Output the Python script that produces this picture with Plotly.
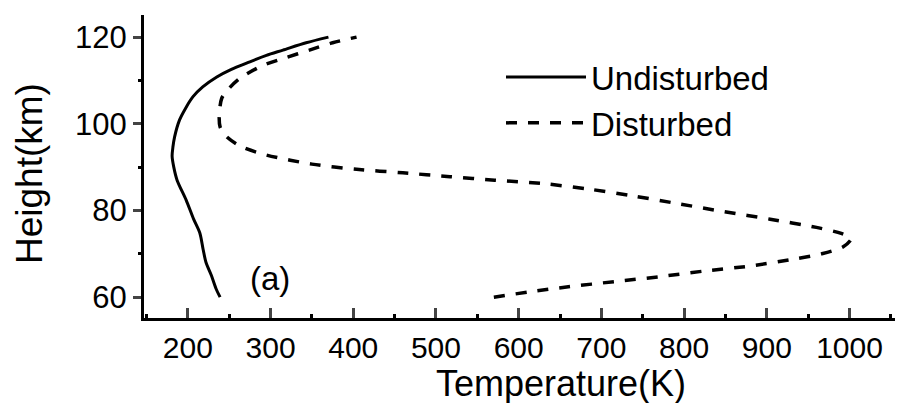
import plotly.graph_objects as go

# Undisturbed profile: height (km) and temperature (K)
undist_h = [60, 62, 65, 68, 71, 74.8, 78, 82.4, 87, 90, 92.5, 94.7, 97, 100.9, 103.5, 106.2, 108.5, 110.8, 112.5, 114.3, 115.8, 117, 118.7, 120]
undist_t = [239, 234, 228.5, 222, 218.5, 214.5, 207, 198, 187, 183, 181, 182, 184, 190, 197, 206, 218, 235, 252, 275, 295, 315, 343, 370]

# Disturbed profile: height (km) and temperature (K)
dist_h = [60, 61.2, 62.4, 63.6, 64.7, 66, 67.2, 68.9, 70, 71.6, 73.5, 74.7, 76.1, 78, 79.7, 81.5, 83.3, 84.9, 86.2, 87, 87.8, 88.7, 89.5, 90.7, 92.8, 94.7, 97, 99.3, 102, 105.9, 108, 110.5, 113.5, 115.3, 117, 118.7, 120]
dist_t = [570, 612, 660, 716, 769, 823, 880, 936, 966, 992, 1002, 990, 960, 904, 849, 795, 740, 686, 630, 571, 517, 460, 404, 350, 295, 265, 247, 239, 238, 241, 249, 263, 291, 319, 347, 375, 404]

x_ticks = [200, 300, 400, 500, 600, 700, 800, 900, 1000]
y_ticks = [60, 80, 100, 120]

FONT = "Liberation Sans, Arial, sans-serif"

# plot-area pixel box (for placing the free-standing titles)
plot_l, plot_r, plot_t, plot_b = 144, 895, 15, 318
def px_to_paper_x(px):
    return (px - plot_l) / (plot_r - plot_l)
def py_to_paper_y(py):
    return (plot_b - py) / (plot_b - plot_t)

fig = go.Figure()
fig.add_trace(go.Scatter(x=undist_t, y=undist_h, mode="lines", name="Undisturbed",
                         line=dict(color="black", width=3, shape="spline", smoothing=0.8)))
fig.add_trace(go.Scatter(x=dist_t, y=dist_h, mode="lines", name="Disturbed",
                         line=dict(color="black", width=3.5, dash="11px,11px", shape="spline", smoothing=0.8)))

fig.update_layout(
    width=904, height=403,
    margin=dict(l=plot_l, r=904 - plot_r, t=plot_t, b=403 - plot_b),
    paper_bgcolor="white", plot_bgcolor="white",
    font=dict(family=FONT, color="black", size=32),
    showlegend=True,
    legend=dict(x=px_to_paper_x(501), y=py_to_paper_y(49), xanchor="left", yanchor="top",
                font=dict(size=33, color="black"), bgcolor="rgba(0,0,0,0)",
                itemwidth=80, tracegroupgap=0),
    xaxis=dict(range=[147, 1055], tickvals=x_ticks, ticks="inside", ticklen=10, tickwidth=2.5,
               showline=True, linewidth=3, linecolor="black", showgrid=False, zeroline=False,
               tickfont=dict(size=30), ticklabelstandoff=1,
               minor=dict(tickvals=[150, 250, 350, 450, 550, 650, 750, 850, 950, 1050],
                          ticks="inside", ticklen=4, tickwidth=2.5, tickcolor="black")),
    yaxis=dict(range=[55.2, 125.1], tickvals=y_ticks, ticks="outside", ticklen=8, tickwidth=2.5,
               showline=True, linewidth=3, linecolor="black", showgrid=False, zeroline=False,
               tickfont=dict(size=31),
               minor=dict(tickvals=[70, 90, 110], ticks="outside", ticklen=3, tickwidth=2.5,
                          tickcolor="black")),
    annotations=[
        dict(text="(a)", x=299, y=64.4, xref="x", yref="y", showarrow=False,
             font=dict(size=33, color="black")),
        dict(text="Temperature(K)", x=px_to_paper_x(561), y=py_to_paper_y(383),
             xref="paper", yref="paper", xanchor="center", yanchor="middle", showarrow=False,
             font=dict(size=36, color="black")),
        dict(text="Height(km)", x=px_to_paper_x(29), y=py_to_paper_y(174),
             xref="paper", yref="paper", xanchor="center", yanchor="middle", showarrow=False,
             textangle=-90, font=dict(size=37, color="black")),
    ],
)

fig.write_html("out.html")
